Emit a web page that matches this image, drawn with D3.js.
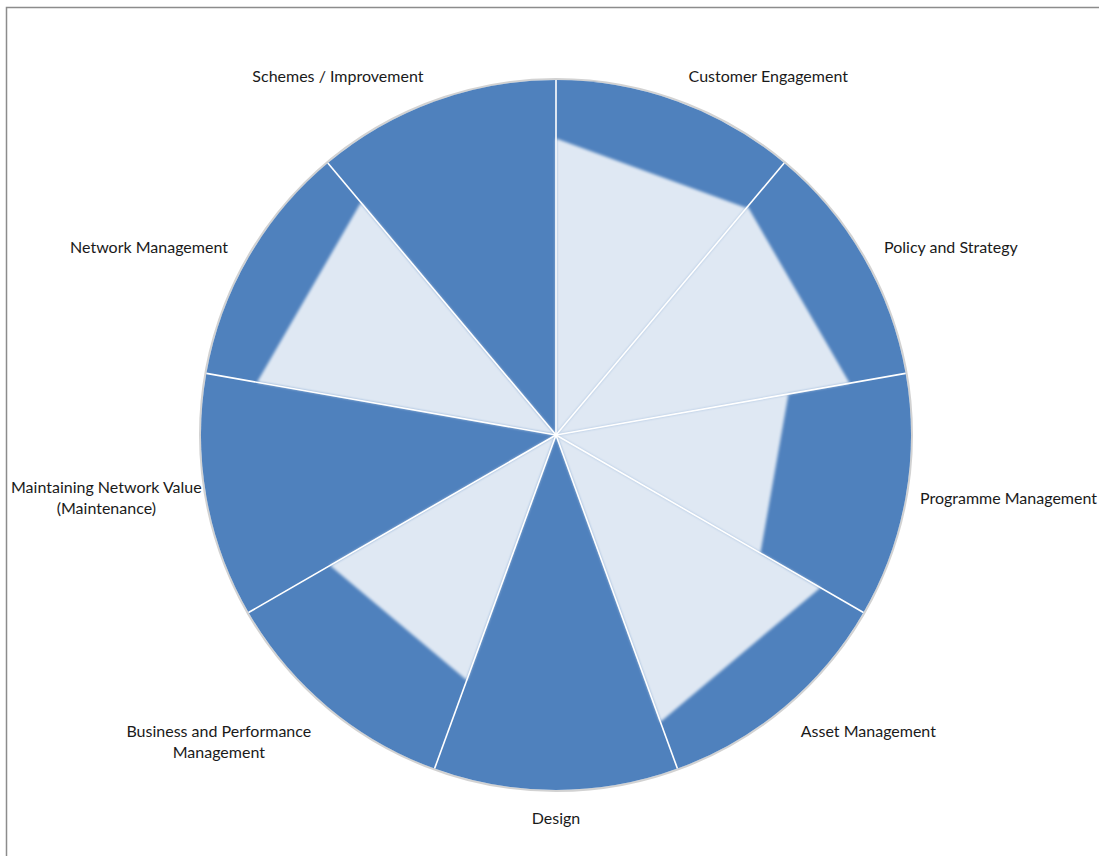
<!DOCTYPE html>
<html>
<head>
<meta charset="utf-8">
<script src="https://cdn.jsdelivr.net/npm/d3@7"></script>
<style>
  body { margin: 0; background: #fff; }
  svg { display: block; }
</style>
</head>
<body>
<svg id="chart" width="1099" height="856"></svg>
<script>
// Capability areas, clockwise from 12 o'clock ("\n" marks a line break in the label)
const categories = [
  "Customer Engagement",
  "Policy and Strategy",
  "Programme Management",
  "Asset Management",
  "Design",
  "Business and Performance\nManagement",
  "Maintaining Network Value\n(Maintenance)",
  "Network Management",
  "Schemes / Improvement"
];
// Every area gets an equal share of the wheel
const sliceWeights = [1, 1, 1, 1, 1, 1, 1, 1, 1];
// Score per area (percent of full radius)
const scores = [83.5, 84, 66.5, 86, 0, 73.5, 0, 85.5, 0];
const scoreDomain = [0, 100];

const width = 1099, height = 856;
const cx = 556, cy = 435, R = 355;
const darkBlue = "#4f81bd";

const svg = d3.select("#chart");

// Filter that softens the edges of the score wedges
const defs = svg.append("defs");
defs.append("filter")
  .attr("id", "soft")
  .attr("x", "-10%").attr("y", "-10%").attr("width", "120%").attr("height", "120%")
  .append("feGaussianBlur").attr("stdDeviation", 1.6);

// Chart frame
svg.append("rect")
  .attr("x", 6.5).attr("y", 7.5)
  .attr("width", width + 20).attr("height", height + 20)
  .attr("fill", "#fff")
  .attr("stroke", "#8c8c8c").attr("stroke-width", 1.5);

const pie = d3.pie().sort(null).value(d => d)(sliceWeights);
const rScale = d3.scaleLinear().domain(scoreDomain).range([0, R]);
const arc = d3.arc().innerRadius(0).outerRadius(R);

const g = svg.append("g").attr("transform", `translate(${cx},${cy})`);

// Faint outline around the wheel
g.append("circle")
  .attr("r", R + 1)
  .attr("fill", "none")
  .attr("stroke", "#d2d2d2")
  .attr("stroke-width", 2);

// Dark slices
g.selectAll("path.slice")
  .data(pie)
  .join("path")
  .attr("class", "slice")
  .attr("d", arc)
  .attr("fill", darkBlue);

// Score wedges: straight-edged triangles reaching the scored radius on both edges
g.selectAll("path.score")
  .data(pie.map((p, i) => ({ p, v: scores[i] })).filter(d => d.v > 0))
  .join("path")
  .attr("class", "score")
  .attr("d", d => {
    const r = rScale(d.v);
    const a = d3.pointRadial(d.p.startAngle, r);
    const b = d3.pointRadial(d.p.endAngle, r);
    return `M0,0L${a[0]},${a[1]}L${b[0]},${b[1]}Z`;
  })
  .attr("fill", "#fff")
  .attr("fill-opacity", 0.82)
  .attr("filter", "url(#soft)");

// White separators between slices
g.selectAll("line.sep")
  .data(pie)
  .join("line")
  .attr("class", "sep")
  .attr("x1", 0).attr("y1", 0)
  .attr("x2", d => d3.pointRadial(d.startAngle, R)[0])
  .attr("y2", d => d3.pointRadial(d.startAngle, R)[1])
  .attr("stroke", "#fff")
  .attr("stroke-width", 1.6);

// Category labels placed outside the wheel at each slice's mid angle
const labelGap = 18, labelPad = 5, lineH = 21;
const labels = svg.append("g")
  .attr("font-family", "Lato, 'Open Sans', sans-serif")
  .attr("font-size", "16px")
  .attr("fill", "#1a1a1a");

pie.forEach((d, i) => {
  const mid = (d.startAngle + d.endAngle) / 2;
  const [px, py] = d3.pointRadial(mid, R + labelGap);
  const s = Math.sin(mid), c = Math.cos(mid);
  const lines = categories[i].split("\n");
  const t = labels.append("text").attr("text-anchor", "middle");
  lines.forEach((ln, k) => t.append("tspan").attr("x", 0).attr("dy", k === 0 ? 0 : lineH).text(ln));
  const w = d3.max(t.selectAll("tspan").nodes(), n => n.getComputedTextLength());
  const h = lines.length * lineH;
  let left = s > 0.15 ? cx + px + labelPad : s < -0.15 ? cx + px - labelPad - w : cx + px - w / 2;
  let top = c > 0.6 ? cy + py - h + 2.5 : c < -0.6 ? cy + py : cy + py - h / 2 - 1.5;
  // keep every label inside the chart area
  left = Math.max(11, Math.min(left, width - 2 - w));
  t.attr("transform", `translate(${left + w / 2},${top + lineH / 2 + 5.5})`);
});
</script>
</body>
</html>
